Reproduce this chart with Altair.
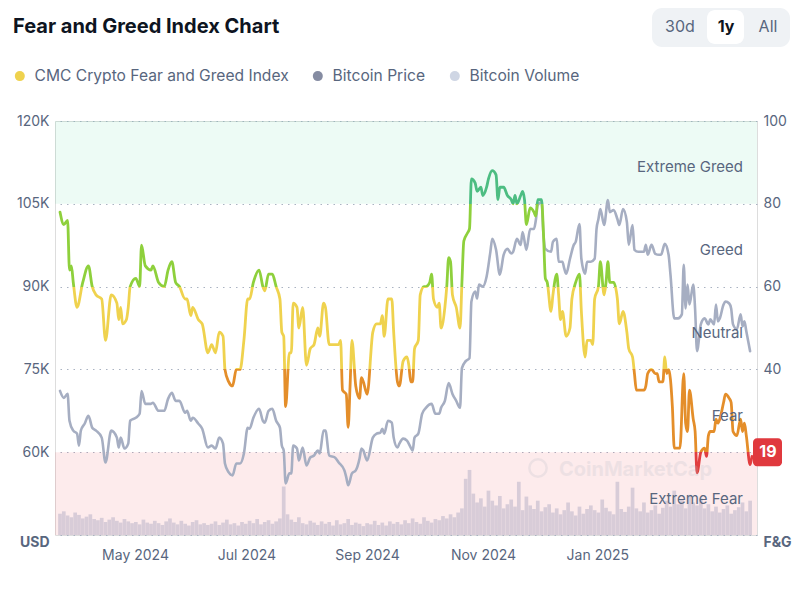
import altair as alt
import pandas as pd

START = pd.Timestamp("2024-04-08")

# Fear & Greed index: day offset from START, value
fg_day = [0,2,4,5,6,7,9,12,15,17,19,22,24,27,30,31,32,33,35,36,37,40,42,43,45,48,49,52,55,57,59,61,63,66,67,69,70,73,75,78,80,82,84,86,87,89,91,93,95,97,99,100,102,105,107,108,110,112,114,116,117,118,119,121,122,123,125,126,128,130,132,134,136,137,139,140,142,145,147,148,149,151,152,153,154,156,158,159,160,162,165,167,169,170,171,173,175,176,178,179,181,183,184,185,186,187,189,190,192,193,195,196,197,199,200,201,203,204,205,206,207,209,211,212,213,215,216,217,219,220,222,223,225,226,228,230,231,232,234,236,238,239,240,241,243,244,245,246,248,250,251,252,254,255,256,257,259,260,262,263,264,265,267,269,270,272,274,275,277,278,280,281,282,284,285,287,288,289,290,292,294,295,297,299,300,302,303,304,308,309,310,312,314,315,316,318,319,320,321,323,324,326,327,329,330,331,332,334,335,336,338,340,341,342,343,345,346,347,348,350,351,353,354,355,357,359,360,361,362,364,365]
fg_val = [78,75,76,64,65,61,55,61,65,60,58,57,47,58,56,52,55,51,52,55,60,62,60,70,65,64,65,61,60,64,66,61,60,57,57,53,55,52,51,44,46,44,49,48,40,37,36,40,40,47,57,57,61,64,60,59,63,63,60,57,49,48,31,44,44,56,55,50,55,41,45,46,50,48,56,55,46,46,46,47,35,34,26,36,47,36,33,38,37,34,49,51,51,53,48,57,57,49,37,36,42,43,41,37,37,45,47,58,60,60,61,63,57,55,56,50,55,60,67,66,58,55,50,61,71,73,74,86,85,83,84,82,84,86,88,87,81,84,84,82,81,80,82,80,82,83,81,75,79,78,77,81,81,73,62,61,54,58,63,58,52,54,48,50,57,61,63,54,43,47,47,46,57,60,66,58,61,66,61,61,57,51,54,49,45,43,39,35,35,36,39,40,39,39,37,37,43,39,40,31,21,21,21,39,27,25,35,28,25,15,20,21,19,24,25,25,28,27,28,32,34,33,32,25,24,28,25,27,24,17,19]

# Bitcoin price (USD): day offset from START, value
btc_day = [0,2,4,5,7,9,10,11,13,15,17,19,22,24,27,30,31,32,34,36,37,40,42,43,45,48,49,52,55,57,59,61,63,66,67,69,70,73,75,78,80,82,84,86,87,89,91,93,95,97,99,100,102,105,107,108,110,112,114,116,117,118,119,121,122,123,125,126,128,130,132,134,136,137,139,140,142,145,147,150,151,152,154,156,158,159,160,162,165,167,169,170,171,173,175,176,178,179,181,183,185,186,187,189,191,193,196,198,200,201,203,205,207,209,211,212,214,216,217,219,220,221,223,225,227,228,230,232,234,236,238,239,241,243,244,246,248,250,251,252,254,255,256,259,260,262,263,265,266,267,269,271,272,274,275,277,278,280,282,283,284,285,287,289,290,292,294,295,297,299,300,302,303,305,308,309,310,312,314,316,317,319,321,322,324,326,328,329,330,331,332,334,335,336,338,340,342,343,345,346,347,348,350,351,353,354,355,357,359,360,361,362,364]
btc_val = [71100,69840,70560,65700,63900,63360,61200,63900,65160,66600,64440,63900,62640,58140,63900,62640,60840,62640,60660,61560,65700,66240,66960,71100,68760,68760,68940,67500,67500,69660,70740,69300,69300,67140,67500,65700,66240,65160,64260,60840,61200,60660,62640,61560,57960,56340,55800,57960,57960,59760,64440,64260,66240,67860,65700,65340,67500,67860,65700,64440,61200,60300,54360,56160,56160,61200,60660,58500,60840,57600,59040,59400,60300,59760,63900,63900,59400,59040,58140,56700,55440,54000,56160,56700,58860,60660,60300,58500,62640,63360,63540,64260,63360,65700,65340,62640,60840,61560,62460,62100,60840,60300,62640,63360,66960,68040,68760,66960,66960,68040,69300,72540,70560,69300,68040,75240,76500,77040,87300,89100,87840,90360,90000,91800,96300,98640,96660,92160,95760,96840,96000,96300,98640,97560,99900,96660,100440,100440,102060,104760,105300,99360,96840,96300,98100,98640,94500,94500,93240,92340,95040,97560,98100,101340,95040,92340,94500,94500,95040,100440,102240,104040,101160,105660,103500,103860,102240,101160,104040,101700,97560,101160,96660,96300,96300,97560,95760,97560,95940,95760,95760,97740,95760,92160,84240,84240,84960,93960,86040,90360,86760,90360,85860,78300,83160,84240,83160,84060,83160,86760,83700,84240,86760,87300,86940,86040,83160,82260,84960,82800,83700,81900,78300]

# Bitcoin volume (billions USD), one value every 2 days from START
vol_val = [36,40,33,30,38,34,28,31,35,27,
           25,29,22,26,30,24,21,27,23,20,
           22,18,26,21,19,24,20,17,23,28,
           21,18,24,19,16,22,25,18,20,17,
           19,23,17,21,26,18,20,16,22,19,
           24,20,27,18,22,25,19,23,28,
           82,35,
           26,22,30,20,18,24,21,17,23,
           19,22,16,25,18,20,27,17,21,19,
           15,20,18,24,17,21,16,23,19,22,
           18,25,20,28,22,19,30,24,21,27,
           25,32,28,35,30,38,45,95,
           110,70,55,62,48,75,58,50,66,45,52,60,
           48,90,42,65,50,44,58,40,47,52,
           38,45,35,42,55,40,33,48,36,44,
           50,42,38,60,46,40,35,90,44,39,
           48,80,45,40,55,38,42,50,36,46,
           58,48,75,52,60,45,68,55,50,62,
           45,52,40,48,38,44,50,36,42,47,55,40,58]
vol_day = list(range(0, 365, 2))

band_names = ["Extreme Greed", "Greed", "Neutral", "Fear", "Extreme Fear"]
band_mid = [90, 70, 50, 30, 10]
band_lo = [80, 0]
band_hi = [100, 20]

legend_names = ["CMC Crypto Fear and Greed Index", "Bitcoin Price", "Bitcoin Volume"]
legend_colors = ["#efd24e", "#858ca2", "#cfd6e4"]

GRAY = "#58667e"
DARK = "#0d1421"
C_EG, C_G, C_N, C_F, C_EF = "#4dbd82", "#8ed03c", "#efd24e", "#e48e2a", "#e23d3f"
C_BTC = "#a6aec2"
C_VOL = "#d8ccd8"
FONT = "Inter"


def to_date(days):
    return [(START + pd.Timedelta(days=int(d))).strftime("%Y-%m-%dT00:00:00") for d in days]


fg_df = pd.DataFrame({"date": to_date(fg_day), "fg": fg_val})
btc_df = pd.DataFrame({"date": to_date(btc_day), "btc": btc_val})
vol_df = pd.DataFrame({"date": to_date(vol_day), "vol": vol_val})
band_df = pd.DataFrame({"lo": band_lo, "hi": band_hi})
label_df = pd.DataFrame({"name": band_names, "mid": band_mid})
legend_df = pd.DataFrame({"series": legend_names})
one = pd.DataFrame({"k": [0]})

W, H = 702, 414

x_scale = alt.Scale(domain=[alt.DateTime(year=2024, month=4, date=8),
                            alt.DateTime(year=2025, month=4, date=8)])
x_axis = alt.Axis(
    values=[alt.DateTime(year=2024, month=5, date=1), alt.DateTime(year=2024, month=7, date=1),
            alt.DateTime(year=2024, month=9, date=1), alt.DateTime(year=2024, month=11, date=1),
            alt.DateTime(year=2025, month=1, date=1)],
    format="%b %Y", labelAlign="left", labelFlush=False, ticks=False, domain=False, grid=False,
    labelColor=GRAY, labelFontSize=14, labelPadding=13, labelFont=FONT, labelOffset=-2,
    title=None)
X = alt.X("date:T", scale=x_scale, axis=x_axis)

fg_scale = alt.Scale(domain=[0, 100], nice=False, zero=False)
btc_scale = alt.Scale(domain=[45000, 120000], nice=False, zero=False)
vol_scale = alt.Scale(domain=[0, 700], nice=False)

# background bands + right axis with grid
fg_axis = alt.Axis(
    orient="right", values=[0, 20, 40, 60, 80, 100], grid=True, gridDash=[1.5, 5],
    gridColor="#aab3c2", gridWidth=1, ticks=False, domain=False, title=None,
    labelExpr="datum.value == 0 ? 'F&G' : (datum.value == 20 ? '' : datum.label)",
    labelColor=GRAY, labelFont=FONT, labelPadding=6,
    labelFontSize=14,
    labelFontWeight={"condition": {"test": "datum.value == 0", "value": "bold"}, "value": "normal"},
    labelBaseline={"condition": {"test": "datum.value == 0", "value": "top"}, "value": "middle"})

bands = alt.Chart(band_df).mark_rect().encode(
    x=alt.value(0), x2=alt.value(W),
    y=alt.Y("lo:Q", scale=fg_scale, axis=fg_axis), y2="hi:Q",
    color=alt.condition("datum.lo >= 50", alt.value("#16c784"), alt.value("#ea3943")),
    opacity=alt.condition("datum.lo >= 50", alt.value(0.08), alt.value(0.1)))

vol = alt.Chart(vol_df).mark_bar(width=3.7, color=C_VOL).encode(
    x=X, y=alt.Y("vol:Q", scale=vol_scale, axis=None))

btc_axis = alt.Axis(
    orient="left", values=[45000, 60000, 75000, 90000, 105000, 120000], grid=False,
    ticks=False, domain=False, title=None, labelColor=GRAY, labelFont=FONT, labelPadding=6,
    labelExpr="datum.value == 45000 ? 'USD' : (datum.value / 1000) + 'K'",
    labelFontSize=14,
    labelFontWeight={"condition": {"test": "datum.value == 45000", "value": "bold"}, "value": "normal"},
    labelBaseline={"condition": {"test": "datum.value == 45000", "value": "top"}, "value": "middle"})

btc = alt.Chart(btc_df).mark_line(color=C_BTC, strokeWidth=2.6, interpolate="monotone",
                                   strokeCap="round", strokeJoin="round").encode(
    x=X, y=alt.Y("btc:Q", scale=btc_scale, axis=btc_axis))

vmax, vmin = max(fg_val), min(fg_val)


def off(t):
    return (vmax - t) / (vmax - vmin)


stops = [(0, C_EG), (off(80), C_EG), (off(80), C_G), (off(60), C_G), (off(60), C_N),
         (off(40), C_N), (off(40), C_F), (off(20), C_F), (off(20), C_EF), (1, C_EF)]
grad = alt.LinearGradient(gradient="linear",
                          stops=[alt.GradientStop(offset=o, color=c) for o, c in stops],
                          x1=0, x2=0, y1=0, y2=1)

fg_line = alt.Chart(fg_df).mark_line(color=grad, strokeWidth=2.8, interpolate="monotone",
                                     strokeCap="round", strokeJoin="round").encode(
    x=X, y=alt.Y("fg:Q", scale=fg_scale, axis=None))

band_text = alt.Chart(label_df).mark_text(align="right", baseline="middle", fontSize=15,
                                          color=GRAY, font=FONT, dy=5).encode(
    x=alt.value(688), y=alt.Y("mid:Q", scale=fg_scale, axis=None), text="name:N")

last_df = fg_df.iloc[[-1]]
badge = alt.Chart(last_df).mark_rect(color="#e0393e", cornerRadius=4, xOffset=1, x2Offset=30,
                                     yOffset=-18, y2Offset=10).encode(
    x=X, x2="date:T", y=alt.Y("fg:Q", scale=fg_scale, axis=None), y2="fg:Q")
badge_text = alt.Chart(last_df).mark_text(color="white", fontWeight="bold", fontSize=16,
                                          font=FONT, dx=16, dy=-4, align="center",
                                          baseline="middle").encode(
    x=X, y=alt.Y("fg:Q", scale=fg_scale, axis=None), text="fg:Q")

fg_top = alt.layer(fg_line, band_text, badge, badge_text)

# watermark
wm_text = alt.Chart(one).mark_text(text="CoinMarketCap", align="left", baseline="middle",
                                   fontSize=20, fontWeight="bold", font=FONT,
                                   color="#b8bcc8", opacity=0.22).encode(
    x=alt.value(504), y=alt.value(349))
wm_logo = alt.Chart(one).mark_point(shape="circle", size=300, filled=False, strokeWidth=2.5,
                                    color="#b8bcc8", opacity=0.22).encode(
    x=alt.value(483), y=alt.value(347))

# header
title = alt.Chart(one).mark_text(text="Fear and Greed Index Chart", align="left",
                                 baseline="alphabetic", fontSize=20, fontWeight="bold",
                                 font=FONT, color=DARK).encode(
    x=alt.value(-42), y=alt.value(-88))
btn_bg = alt.Chart(one).mark_rect(color="#eff2f5", cornerRadius=10).encode(
    x=alt.value(597), x2=alt.value(735), y=alt.value(-113), y2=alt.value(-74))
btn_sel = alt.Chart(one).mark_rect(color="white", cornerRadius=8).encode(
    x=alt.value(652), x2=alt.value(689), y=alt.value(-111), y2=alt.value(-77))
btn_30 = alt.Chart(one).mark_text(text="30d", fontSize=16, font=FONT, color=GRAY,
                                  align="center", baseline="middle").encode(
    x=alt.value(625), y=alt.value(-94))
btn_1y = alt.Chart(one).mark_text(text="1y", fontSize=16, font=FONT, color=DARK,
                                  fontWeight="bold", align="center", baseline="middle").encode(
    x=alt.value(671), y=alt.value(-94))
btn_all = alt.Chart(one).mark_text(text="All", fontSize=16, font=FONT, color=GRAY,
                                   align="center", baseline="middle").encode(
    x=alt.value(713), y=alt.value(-94))

legend = alt.Chart(legend_df).mark_point(filled=True, opacity=0).encode(
    x=alt.value(0), y=alt.value(0),
    color=alt.Color("series:N",
                    scale=alt.Scale(domain=legend_names, range=legend_colors),
                    legend=alt.Legend(orient="none", legendX=-43, legendY=-53,
                                      direction="horizontal", title=None,
                                      labelFontSize=15.6, labelColor=GRAY, labelFont=FONT,
                                      symbolType="circle", symbolSize=100,
                                      symbolStrokeWidth=0, symbolOpacity=1,
                                      columnPadding=21, labelOffset=7, labelLimit=400,
                                      padding=0)))

chart = alt.layer(
    bands, vol, btc, fg_top, wm_text, wm_logo,
    title, btn_bg, btn_sel, btn_30, btn_1y, btn_all, legend
).resolve_scale(y="independent").properties(
    width=W, height=H,
    autosize=alt.AutoSizeParams(type="none"),
    padding={"left": 47, "top": 113, "right": 35, "bottom": 45},
    background="white",
).configure_view(stroke=None).configure(font=FONT)

chart.save("out.html", embed_options={"renderer": "svg", "actions": False})
